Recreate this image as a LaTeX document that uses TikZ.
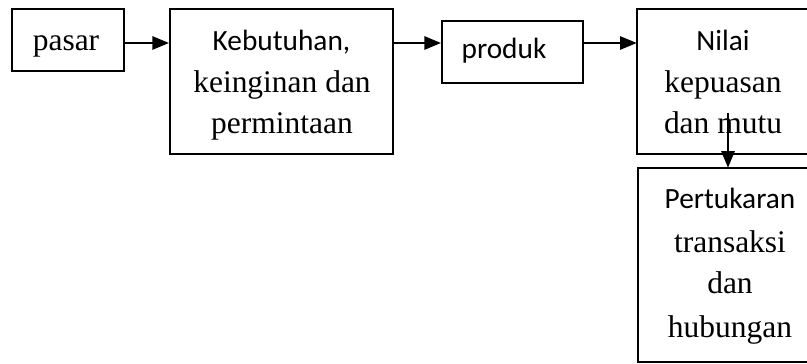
\documentclass[tikz,border=0pt]{standalone}
\usepackage{fontspec}
\setmainfont{Liberation Serif}
\newfontfamily\calfont{Carlito}
\usetikzlibrary{arrows.meta}
\begin{document}
\begin{tikzpicture}[x=0.75pt,y=-0.75pt,
  box/.style={draw=black,line width=1.5pt,rectangle,inner sep=0pt},
  cutbox/.style={rectangle,inner sep=0pt},
  edge/.style={draw=black,line width=1.5pt},
  arr/.style={draw=black,line width=1.4pt,-{Triangle[length=12.5pt,width=10pt]}},
  serif/.style={anchor=base,inner sep=0pt,font=\fontsize{23.6}{28}\selectfont},
  sans/.style={anchor=base,inner sep=0pt,font=\calfont\fontsize{22}{26}\selectfont}]
\useasboundingbox (0,0) rectangle (807,364);
\clip (0,0) rectangle (807,364);
% boxes
\node[box,minimum width=84pt,minimum height=46.5pt] (pasar) at (68,40) {};
\node[box,minimum width=167.25pt,minimum height=108.75pt] (keb) at (281.5,81.5) {};
\node[box,minimum width=105.75pt,minimum height=46.5pt] (produk) at (512.5,52) {};
\node[cutbox,minimum width=127.5pt,minimum height=108.75pt] (nilai) at (722,81.5) {};
\node[cutbox,minimum width=126pt,minimum height=145.5pt] (pert) at (722,265) {};
% the two right boxes run past the right edge of the picture
\draw[edge] ([xshift=8pt]nilai.north east) -- (nilai.north west) -- (nilai.south west) -- ([xshift=8pt]nilai.south east);
\draw[edge] ([xshift=8pt]pert.north east) -- (pert.north west) -- (pert.south west) -- ([xshift=8pt]pert.south east);
% texts
\node[serif] (t1) at (66,50) {pasar};
\node[sans]  (t2) at (281.5,50) {Kebutuhan,};
\node[serif] (t3) at (282,92) {keinginan dan};
\node[serif] (t4) at (282,133) {permintaan};
\node[sans]  (t5) at (504,58) {produk};
\node[sans]  (t6) at (723,50) {Nilai};
\node[serif] (t7) at (723,92) {kepuasan};
\node[serif] (t8) at (723,133) {dan mutu};
\node[sans]  (t9) at (730,208) {Pertukaran};
\node[serif] (t10) at (730,252) {transaksi};
\node[serif] (t11) at (730,293) {dan};
\node[serif] (t12) at (730,337) {hubungan};
% connectors
\coordinate (ya) at (0,43);
\coordinate (d0) at (728,113);
\draw[arr] (pasar.east |- ya) -- (keb.west |- ya);
\draw[arr] (keb.east |- ya) -- (produk.west |- ya);
\draw[arr] (produk.east |- ya) -- (nilai.west |- ya);
\draw[arr] (d0) -- (pert.north -| d0);
\end{tikzpicture}
\end{document}
